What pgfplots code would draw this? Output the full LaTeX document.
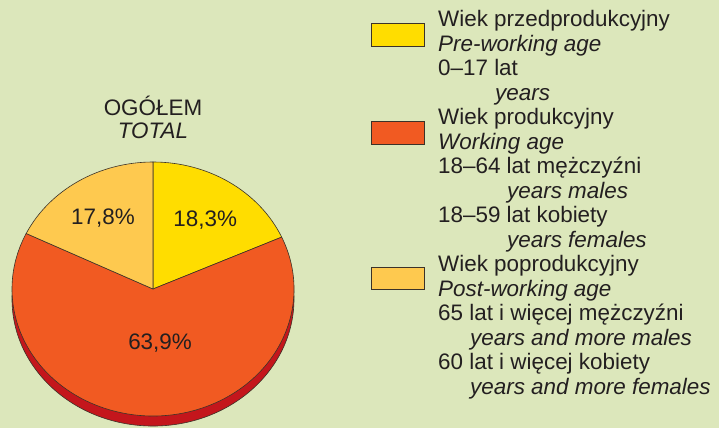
\documentclass[border=0pt]{standalone}
\usepackage{fontspec}
\setmainfont{Liberation Sans}
\usepackage{pgfplots}
\usepackage{pgfplotstable}
\pgfplotsset{compat=1.18}
\definecolor{cBg}{RGB}{220,231,187}
\definecolor{cYel}{RGB}{255,221,0}
\definecolor{cOra}{RGB}{241,90,34}
\definecolor{cLor}{RGB}{254,201,79}
\definecolor{cRed}{RGB}{196,22,28}
\definecolor{cTxt}{RGB}{35,31,32}
\definecolor{cLine}{RGB}{60,50,40}
\newcommand\fs{\fontsize{22.5}{24.5}\selectfont}

\pgfplotstableread{
value
18.3
63.9
17.8
}\piedata

\begin{document}
\begin{tikzpicture}
\fill[cBg] (0bp,0bp) rectangle (719bp,428bp);
\pgfplotstablegetelem{0}{value}\of\piedata \let\vA\pgfplotsretval
\pgfplotstablegetelem{1}{value}\of\piedata \let\vB\pgfplotsretval
\pgfplotstablegetelem{2}{value}\of\piedata \let\vC\pgfplotsretval
% slices start at the top and run clockwise
\pgfmathsetmacro\aA{90}
\pgfmathsetmacro\aB{90-3.6*\vA}
\pgfmathsetmacro\aC{90-3.6*(\vA+\vB)}
\pgfmathsetmacro\aD{90-3.6*(\vA+\vB+\vC)}
\begin{axis}[hide axis, scale only axis, width=282bp, height=254bp,
  xmin=-1, xmax=1, ymin=-1, ymax=1, at={(12bp,12bp)}, anchor=south west, clip=false,
  /pgf/number format/assume math mode=true]
% side of the disc
\filldraw[cRed, draw=cLine, line width=0.6bp] (axis cs:0,-0.079) ellipse [x radius=141bp, y radius=127bp];
\filldraw[cYel, draw=cLine, line width=0.6bp] (axis cs:0,0) -- (axis cs:{cos(\aA)},{sin(\aA)})
  arc[start angle=\aA, end angle=\aB, x radius=141bp, y radius=127bp] -- cycle;
\filldraw[cOra, draw=cLine, line width=0.6bp] (axis cs:0,0) -- (axis cs:{cos(\aB)},{sin(\aB)})
  arc[start angle=\aB, end angle=\aC, x radius=141bp, y radius=127bp] -- cycle;
\filldraw[cLor, draw=cLine, line width=0.6bp] (axis cs:0,0) -- (axis cs:{cos(\aC)},{sin(\aC)})
  arc[start angle=\aC, end angle=\aD, x radius=141bp, y radius=127bp] -- cycle;
\node[anchor=base, font=\fs, text=cTxt, inner sep=0pt] at (axis cs:0.37,0.49)
  {\pgfmathprintnumber[fixed,precision=1,fixed zerofill,use comma,assume math mode=true]{\vA}\%};
\node[anchor=base, font=\fs, text=cTxt, inner sep=0pt] at (axis cs:0.05,-0.48)
  {\pgfmathprintnumber[fixed,precision=1,fixed zerofill,use comma,assume math mode=true]{\vB}\%};
\node[anchor=base, font=\fs, text=cTxt, inner sep=0pt] at (axis cs:-0.355,0.51)
  {\pgfmathprintnumber[fixed,precision=1,fixed zerofill,use comma,assume math mode=true]{\vC}\%};
\end{axis}

\begin{scope}[x=1bp, y=1bp, every node/.style={font=\fs, text=cTxt, inner sep=0pt}]
\node[anchor=base] at (153,312) {OGÓŁEM};
\node[anchor=base] at (153,289) {\itshape TOTAL};

\filldraw[cYel, draw=cLine, line width=0.7bp] (371,382) rectangle (424,405);
\filldraw[cOra, draw=cLine, line width=0.7bp] (371,284) rectangle (424,307);
\filldraw[cLor, draw=cLine, line width=0.7bp] (371,139) rectangle (424,161);

\node[anchor=base west] at (438,401) {Wiek przedprodukcyjny};
\node[anchor=base west] at (438,376.5) {\itshape Pre-working age};
\node[anchor=base west] at (438,352) {0–17 lat};
\node[anchor=base west] at (495,327.5) {\itshape years};
\node[anchor=base west] at (438,303) {Wiek produkcyjny};
\node[anchor=base west] at (438,278.5) {\itshape Working age};
\node[anchor=base west] at (438,254) {18–64 lat mężczyźni};
\node[anchor=base west] at (507,229.5) {\itshape years males};
\node[anchor=base west] at (438,205) {18–59 lat kobiety};
\node[anchor=base west] at (507,180.5) {\itshape years females};
\node[anchor=base west] at (438,156) {Wiek poprodukcyjny};
\node[anchor=base west] at (438,131.5) {\itshape Post-working age};
\node[anchor=base west] at (438,107) {65 lat i więcej mężczyźni};
\node[anchor=base west] at (470,82.5) {\itshape years and more males};
\node[anchor=base west] at (438,58) {60 lat i więcej kobiety};
\node[anchor=base west] at (470,33.5) {\itshape years and more females};
\end{scope}
\end{tikzpicture}
\end{document}
